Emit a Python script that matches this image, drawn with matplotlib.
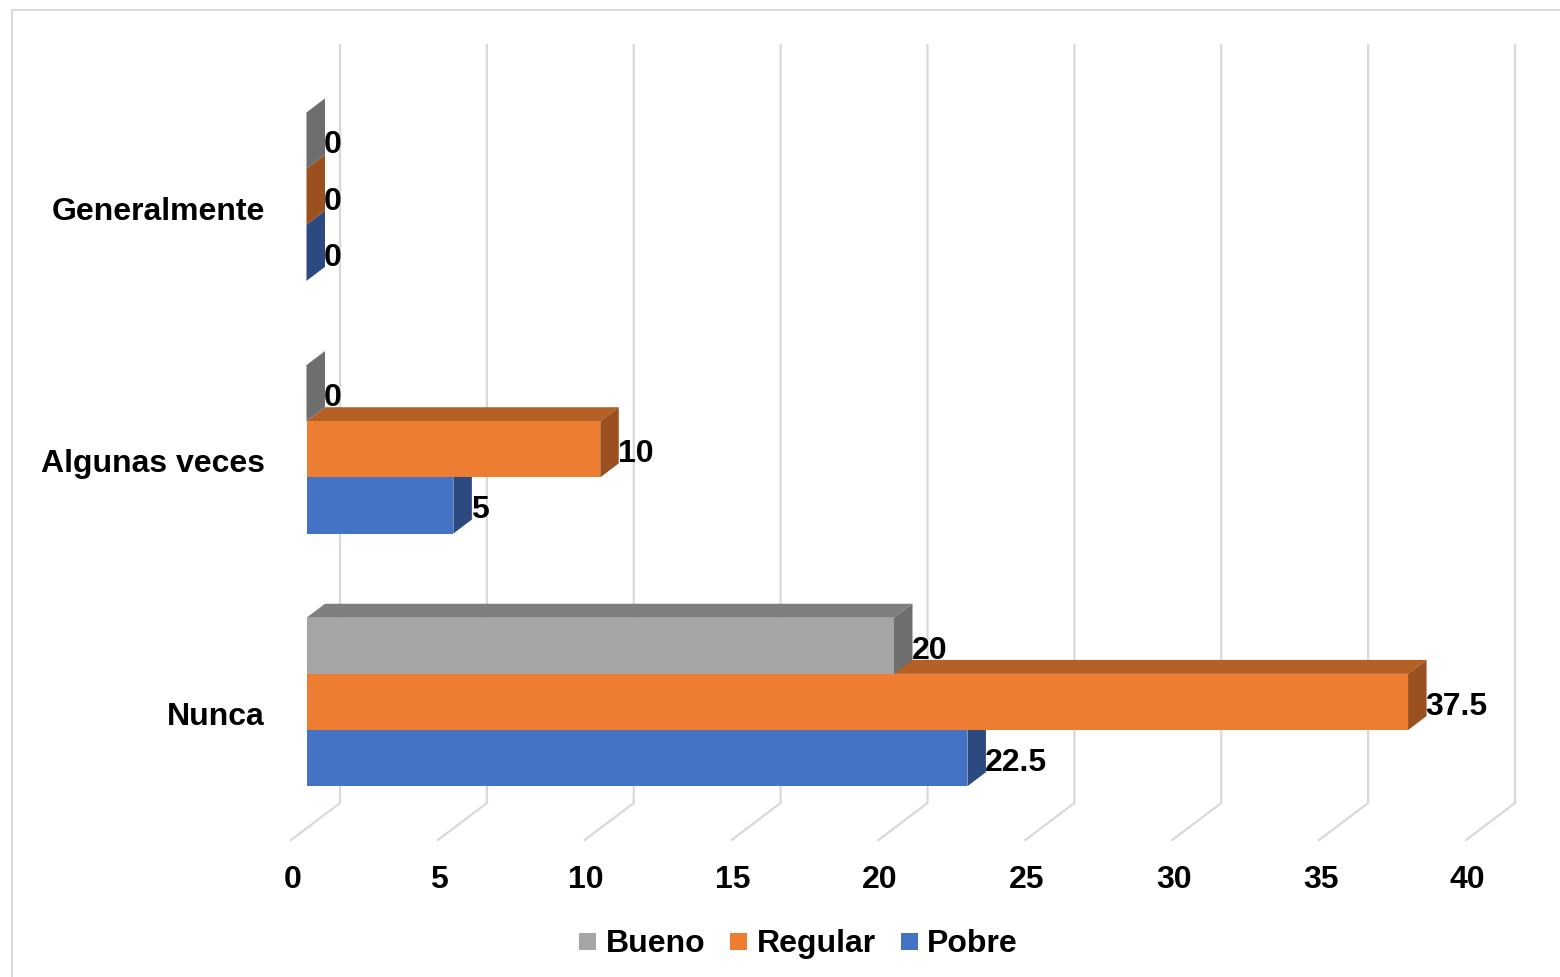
import matplotlib
matplotlib.use("Agg")
import matplotlib.pyplot as plt
from matplotlib.patches import Polygon, Rectangle
from matplotlib.lines import Line2D

# ---- data -------------------------------------------------------------
categories = ["Nunca", "Algunas veces", "Generalmente"]
series_names = ["Bueno", "Regular", "Pobre"]
bueno = [20, 0, 0]
regular = [37.5, 10, 0]
pobre = [22.5, 5, 0]
x_ticks = [0, 5, 10, 15, 20, 25, 30, 35, 40]

values = {"Bueno": bueno, "Regular": regular, "Pobre": pobre}
front_colors = {"Bueno": "#A5A5A5", "Regular": "#ED7D31", "Pobre": "#4472C4"}
top_colors = {"Bueno": "#7F7F7F", "Regular": "#B45F24", "Pobre": "#3A62A8"}
side_colors = {"Bueno": "#6E6E6E", "Regular": "#9A511F", "Pobre": "#2C4A80"}

plt.rcParams["font.family"] = ["Liberation Sans", "DejaVu Sans"]
plt.rcParams["font.weight"] = "bold"
FS = 23

W, H, DPI = 1560, 977, 100
fig = plt.figure(figsize=(W / DPI, H / DPI), dpi=DPI)

# plane in which the bar fronts sit (pixel box)
L, R, T, B = 306.5, 1481.5, 70.3, 828.3
ax = fig.add_axes([L / W, 1 - B / H, (R - L) / W, (B - T) / H])
xmin, xmax = 0, 40
ymin, ymax = -0.5, 2.5
ax.set_xlim(xmin, xmax)
ax.set_ylim(ymin, ymax)
ax.axis("off")

sx = (R - L) / (xmax - xmin)   # pixels per x unit
sy = (B - T) / (ymax - ymin)   # pixels per y unit

# depth offsets in pixels (x right, y up)
BACK = (33.5, 25.3)
FRONT = (-15.5, -11.7)
DEPTH = (18.5, 14.0)


def shift(x, y, off):
    return x + off[0] / sx, y + off[1] / sy


grid_color = "#D9D9D9"
# back wall gridlines + floor diagonals
for t in x_ticks:
    fx, fy = shift(t, ymin, FRONT)
    bx0, by0 = shift(t, ymin, BACK)
    bx1, by1 = shift(t, ymax, BACK)
    ax.add_line(Line2D([fx, bx0, bx1], [fy, by0, by1], color=grid_color,
                       lw=1.6, zorder=1, clip_on=False, solid_joinstyle="miter"))

# bars
bar_h = 1 / 4.5
pos_offset = {"Bueno": bar_h, "Regular": 0.0, "Pobre": -bar_h}
draw_order = ["Pobre", "Regular", "Bueno"]
ypos = list(range(len(categories)))

for k, name in enumerate(draw_order):
    vals = values[name]
    ys = [y + pos_offset[name] for y in ypos]
    z_back = 2 + 2 * k
    z_front = 3 + 2 * k
    for v, yc in zip(vals, ys):
        y0, y1 = yc - bar_h / 2, yc + bar_h / 2
        # top face
        tl = shift(0, y1, DEPTH)
        tr = shift(v, y1, DEPTH)
        ax.add_patch(Polygon([(0, y1), (v, y1), tr, tl], closed=True,
                             facecolor=top_colors[name], edgecolor="none",
                             zorder=z_back, clip_on=False))
        # side face
        sb = shift(v, y0, DEPTH)
        st = shift(v, y1, DEPTH)
        ax.add_patch(Polygon([(v, y0), (v, y1), st, sb], closed=True,
                             facecolor=side_colors[name], edgecolor="none",
                             zorder=z_back, clip_on=False))
        # value label
        lx, _ = shift(v, yc, DEPTH)
        ax.text(lx - 1 / sx, yc - 13 / sy, f"{v:g}", ha="left", va="baseline",
                fontsize=FS, fontweight="bold", color="black",
                zorder=20, clip_on=False)
    ax.barh(ys, vals, height=bar_h, left=0, color=front_colors[name],
            linewidth=0, zorder=z_front, clip_on=False)

# category labels
for y, cat in zip(ypos, categories):
    ax.text(xmin - (L - 265) / sx, y - 23 / sy, cat, ha="right",
            va="baseline", fontsize=FS, fontweight="bold", clip_on=False)

# value axis tick labels along the front edge
for t in x_ticks:
    tx, _ = shift(t, ymin, FRONT)
    ax.text(tx + 1.5 / sx, ymin - (888.5 - B) / sy, f"{t:g}", ha="center",
            va="baseline", fontsize=FS, fontweight="bold", clip_on=False)

# legend
handles = [Line2D([], [], marker="s", ls="", markersize=17 * 72 / DPI,
                  markerfacecolor=front_colors[n], markeredgewidth=0)
           for n in series_names]
fig.legend(handles, series_names, ncol=3, loc="center",
           bbox_to_anchor=(798 / W, 1 - 944 / H), frameon=False,
           handlelength=0.55, handletextpad=0.3, columnspacing=0.76,
           prop={"size": FS, "weight": "bold"}, borderpad=0, borderaxespad=0)

# chart area border
fig.patches.append(Rectangle((12 / W, -0.1), 1.2, 1.1 - 10 / H,
                             transform=fig.transFigure, fill=False,
                             edgecolor=grid_color, lw=1.4))

fig.savefig("out.png", dpi=DPI)
